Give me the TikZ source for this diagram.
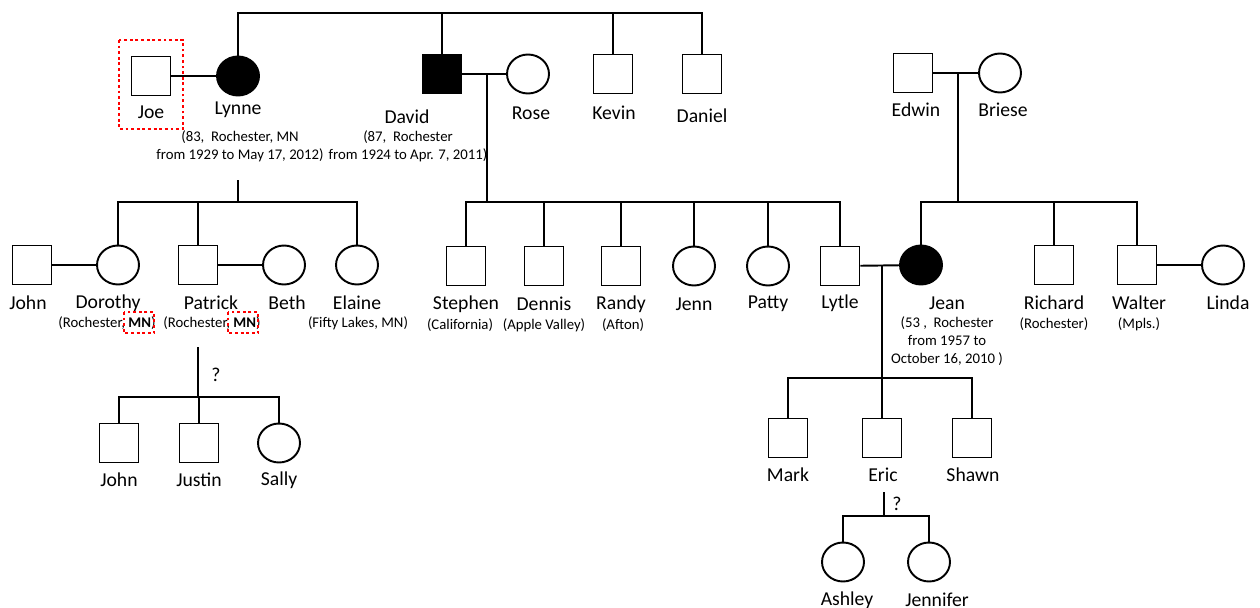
\documentclass[tikz,border=0pt]{standalone}
\usepackage{fontspec}
\setmainfont{Carlito}
\usepackage{tikz}
\usetikzlibrary{shapes.geometric}
\tikzset{
  male/.style={draw, rectangle, minimum size=0.78cm, inner sep=0pt},
  female/.style={draw, ellipse, minimum width=0.84cm, minimum height=0.78cm, inner sep=0pt},
  affected/.style={fill=black},
  who/.style={font=\fontsize{11.2}{13}\selectfont, inner sep=0pt},
  info/.style={font=\fontsize{8.4}{10.2}\selectfont, align=center, inner sep=0pt},
  redbox/.style={draw=red, line width=1.6pt, dash pattern=on 1.6pt off 1.6pt}
}

\begin{document}
\begin{tikzpicture}[x=0.02cm, y=-0.02cm, line width=1.1pt]
        \useasboundingbox (0,0) rectangle (1260,608);

        % first generation
        \node[male] (joe) at (151,76) {};
        \node[female, affected] (lynne) at (238,76) {};
        \node[male, affected] (david) at (442,74) {};
        \node[female] (rose) at (528,74) {};
        \node[male] (kevin) at (613,74) {};
        \node[male] (daniel) at (702,74) {};
        \node[male] (edwin) at (913,73) {};
        \node[female] (briese) at (1000,73) {};

        \node[who] (joelab) at (151,112) {Joe};
        \node[who] (lynnelab) at (238,110) {Lynne};
        \node[who] (davidlab) at (407,117) {David};
        \node[who] (roselab) at (531,113) {Rose};
        \node[who] (kevinlab) at (614,113) {Kevin};
        \node[who] (daniellab) at (702,116) {Daniel};
        \node[who] (edwinlab) at (916,110) {Edwin};
        \node[who] (brieselab) at (1003,110) {Briese};

        \node[info] (lynneinfo) at (240,146) {(83,\ \ Rochester, MN\\from 1929 to May 17, 2012)};
        \node[info] (davidinfo) at (408,146) {(87,\ \ Rochester\\from 1924 to Apr. 7, 2011)};

        \coordinate (topline) at (0,13);
        \draw (lynne.north) |- (topline -| daniel.north) -- (daniel.north);
        \foreach \p in {david, kevin}
            \draw (\p.north) -- (\p.north |- topline);

        \draw (joe) -- (lynne);
        \draw (david) -- (rose);
        \draw (edwin) -- (briese);

        % second generation
        \node[male] (john) at (32,265) {};
        \node[female] (dorothy) at (118,265) {};
        \node[male] (patrick) at (198,265) {};
        \node[female] (beth) at (284,265) {};
        \node[female] (elaine) at (357,265) {};
        \node[male] (stephen) at (466,266) {};
        \node[male] (dennis) at (544,266) {};
        \node[male] (randy) at (621,266) {};
        \node[female] (jenn) at (694,266) {};
        \node[female] (patty) at (768,266) {};
        \node[male] (lytle) at (840,266) {};
        \node[female, affected] (jean) at (921,265) {};
        \node[male] (richard) at (1054,265) {};
        \node[male] (walter) at (1137,265) {};
        \node[female] (linda) at (1223,265) {};

        \node[who] (johnlab) at (28,303) {John};
        \node[who] (dorothylab) at (108,303) {Dorothy};
        \node[who] (patricklab) at (211,303) {Patrick};
        \node[who] (bethlab) at (287,303) {Beth};
        \node[who] (elainelab) at (357,303) {Elaine};
        \node[who] (stephenlab) at (466,304) {Stephen};
        \node[who] (dennislab) at (544,304) {Dennis};
        \node[who] (randylab) at (621,304) {Randy};
        \node[who] (jennlab) at (694,304) {Jenn};
        \node[who] (pattylab) at (768,304) {Patty};
        \node[who] (lytlelab) at (840,303) {Lytle};
        \node[who] (jeanlab) at (947,303) {Jean};
        \node[who] (richardlab) at (1054,303) {Richard};
        \node[who] (walterlab) at (1139,303) {Walter};
        \node[who] (lindalab) at (1228,303) {Linda};

        \node[info] (dorothyinfo) at (107,323) {(Rochester, \textbf{MN})};
        \node[info] (patrickinfo) at (212,323) {(Rochester, \textbf{MN})};
        \node[info] (elaineinfo) at (358,323) {(Fifty Lakes, MN)};
        \node[info] (stepheninfo) at (460,325) {(California)};
        \node[info] (dennisinfo) at (544,325) {(Apple Valley)};
        \node[info] (randyinfo) at (623,325) {(Afton)};
        \node[info] (jeaninfo) at (947,341) {(53 ,\ \ Rochester\\from 1957 to\\October 16, 2010 )};
        \node[info] (richardinfo) at (1054,324) {(Rochester)};
        \node[info] (walterinfo) at (1139,324) {(Mpls.)};

        \coordinate (rowa) at (0,202);
        \coordinate (jl) at (238,180);
        \draw (jl) -- (jl |- rowa);
        \draw (dorothy.north) |- (elaine.north |- rowa) -- (elaine.north);
        \draw (patrick.north) -- (patrick.north |- rowa);

        \coordinate (dr) at (487,75);
        \draw (dr) -- (dr |- rowa);
        \draw (stephen.north) |- (lytle.north |- rowa) -- (lytle.north);
        \foreach \p in {dennis, randy, jenn, patty}
            \draw (\p.north) -- (\p.north |- rowa);

        \coordinate (eb) at (958,73);
        \draw (eb) -- (eb |- rowa);
        \draw (jean.north) |- (walter.north |- rowa) -- (walter.north);
        \draw (richard.north) -- (richard.north |- rowa);

        \draw (john) -- (dorothy);
        \draw (patrick) -- (beth);
        \draw (lytle) -- (jean);
        \draw (walter) -- (linda);

        % third generation
        \node[male] (johnjr) at (119,443) {};
        \node[male] (justin) at (199,443) {};
        \node[female] (sally) at (279,443) {};
        \node[male] (mark) at (788,438) {};
        \node[male] (eric) at (882,438) {};
        \node[male] (shawn) at (972,438) {};

        \node[who] (johnjrlab) at (119,480) {John};
        \node[who] (justinlab) at (199,480) {Justin};
        \node[who] (sallylab) at (279,480) {Sally};
        \node[who] (marklab) at (788,475) {Mark};
        \node[who] (ericlab) at (883,475) {Eric};
        \node[who] (shawnlab) at (973,475) {Shawn};

        \coordinate (rowb) at (0,397);
        \coordinate (pb) at (198,347);
        \draw (pb) -- (pb |- rowb);
        \node[who] (pbq) at (216,375) {?};
        \draw (johnjr.north) |- (sally.north |- rowb) -- (sally.north);
        \draw (justin.north) -- (justin.north |- rowb);

        \coordinate (rowc) at (0,378);
        \coordinate (lj) at (882,266);
        \draw (lj) -- (lj |- rowc);
        \draw (mark.north) |- (shawn.north |- rowc) -- (shawn.north);
        \draw (eric.north) -- (eric.north |- rowc);

        % fourth generation
        \node[female] (ashley) at (843,562) {};
        \node[female] (jennifer) at (929,562) {};
        \node[who] (ashleylab) at (847,600) {Ashley};
        \node[who] (jenniferlab) at (937,600) {Jennifer};

        \coordinate (rowd) at (0,516);
        \coordinate (ea) at (884,492);
        \draw (ea) -- (ea |- rowd);
        \node[who] (eaq) at (897,504) {?};
        \draw (ashley.north) |- (jennifer.north |- rowd) -- (jennifer.north);

        % highlighted
        \draw[redbox] (119,40) rectangle (183,129);
        \draw[redbox] (124,312) rectangle (154,333);
        \draw[redbox] (228,312) rectangle (258,333);
    \end{tikzpicture}
\end{document}
